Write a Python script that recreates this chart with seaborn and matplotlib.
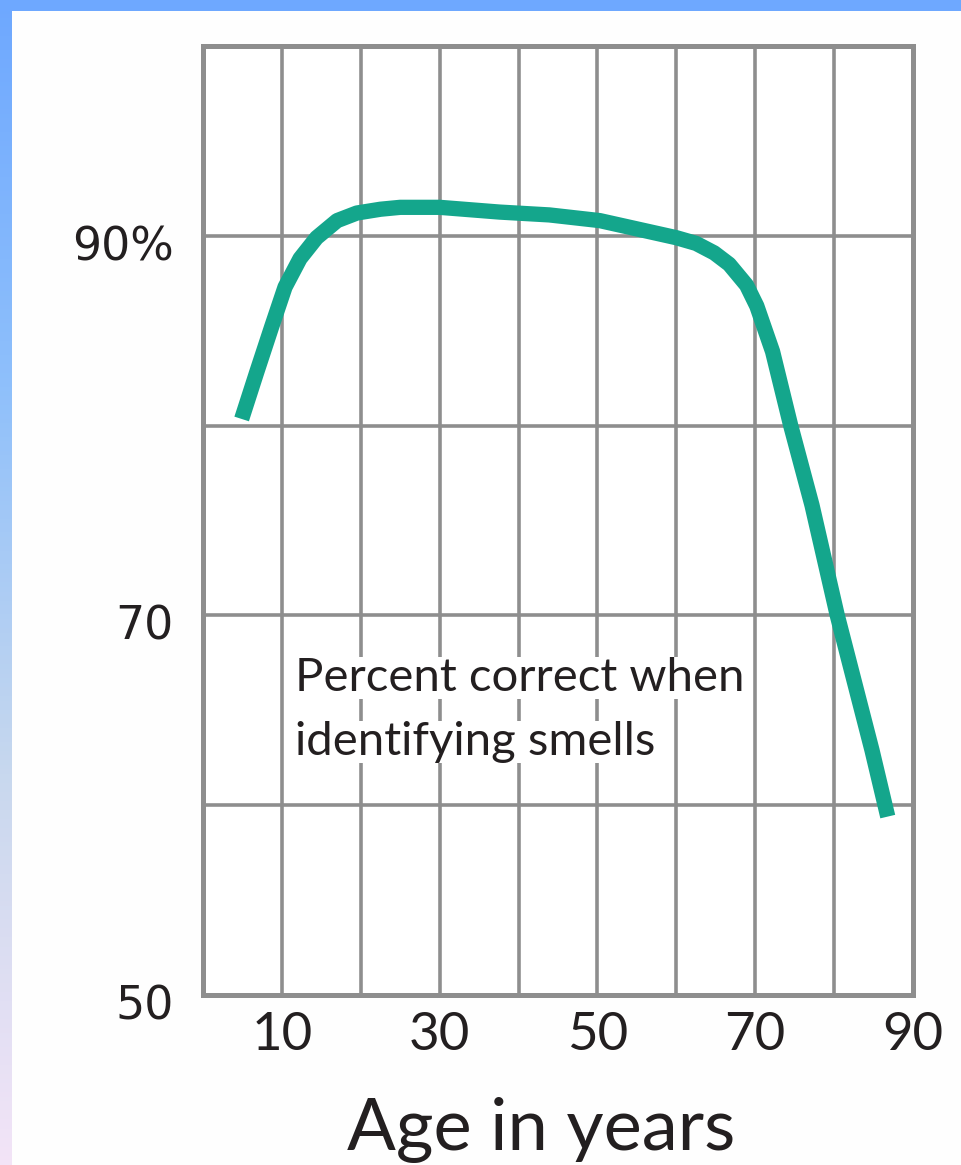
import numpy as np
import pandas as pd
import matplotlib
matplotlib.use("Agg")
import matplotlib.pyplot as plt
import matplotlib.transforms as mtransforms
from matplotlib.colors import LinearSegmentedColormap
from matplotlib.patches import Rectangle
import seaborn as sns

# ---------------- data ----------------
ages = [4.9, 6.8, 8.7, 10.4, 12.3, 14.4, 17.0, 19.5, 22.5, 25.0, 30.0, 37.6, 43.9, 50.3,
        60.0, 62.5, 64.8, 66.7, 68.9, 70.2, 72.2, 74.5, 77.2, 80.4, 84.8, 86.8]
percent_correct = [80.35, 82.8, 85.2, 87.3, 88.8, 89.9, 90.8, 91.2, 91.4, 91.5, 91.5, 91.25, 91.1, 90.8,
                   89.9, 89.6, 89.1, 88.5, 87.4, 86.3, 83.9, 80.0, 75.8, 70.0, 62.9, 59.4]

x_tick_values = [0, 10, 20, 30, 40, 50, 60, 70, 80, 90]
x_tick_labels = ["", "10", "", "30", "", "50", "", "70", "", "90"]
y_tick_values = [50, 60, 70, 80, 90, 100]
y_tick_labels = ["50", "", "70", "", "90%", ""]
annotation_lines = ["Percent correct when", "identifying smells"]
x_label = "Age in years"

TEAL = "#14a68c"
GRID = "#8e8e8e"
TEXT = "#231f20"

sns.set_theme(style="white")
plt.rcParams["font.family"] = ["Lato", "DejaVu Sans"]

W, H = 961, 1165
fig = plt.figure(figsize=(W / 100, H / 100), dpi=100)
fig.patch.set_facecolor("#fefefe")

# left gradient strip and top band
strip = fig.add_axes([0, 0, 12 / W, 1])
cmap = LinearSegmentedColormap.from_list(
    "strip", ["#6ea8ff", "#8fc0fb", "#c8d8ee", "#f3e4f7"])
strip.imshow(np.linspace(0, 1, 256).reshape(-1, 1), aspect="auto", cmap=cmap)
strip.set_axis_off()
fig.add_artist(Rectangle((0, 1 - 11 / H), 1, 11 / H, transform=fig.transFigure,
                         facecolor="#6ea8ff", edgecolor="none", zorder=10))

ax = fig.add_axes([203 / W, 1 - 995 / H, 710 / W, 949 / H])
df = pd.DataFrame({"age": ages, "pct": percent_correct})
sns.lineplot(data=df, x="age", y="pct", ax=ax, color=TEAL, linewidth=11,
             sort=False, zorder=5, solid_capstyle="butt", solid_joinstyle="round")

ax.set_xlim(0, 90)
ax.set_ylim(50, 100)
ax.set_xticks(x_tick_values, x_tick_labels)
ax.set_yticks(y_tick_values, y_tick_labels)
ax.grid(True, color=GRID, linewidth=2.6)
ax.set_axisbelow(True)
for s in ax.spines.values():
    s.set_visible(True)
    s.set_color(GRID)
    s.set_linewidth(3.6)
ax.tick_params(axis="x", length=0, pad=12, labelsize=38, labelcolor=TEXT)
ax.tick_params(axis="y", length=0, pad=21, labelsize=33, labelcolor=TEXT,
               labelfontfamily="DejaVu Sans")
offset = mtransforms.ScaledTranslation(0, -7 / 100, fig.dpi_scale_trans)
for lab in ax.get_yticklabels():
    lab.set_transform(lab.get_transform() + offset)

ax.set_xlabel("")
ax.set_ylabel("")
fig.text(541 / W, 1 - 1150 / H, x_label, fontsize=52, color=TEXT,
         ha="center", va="baseline")

ax.text(11.65, 66.72, annotation_lines[0], fontsize=34, color=TEXT,
        ha="left", va="center", zorder=3,
        bbox=dict(boxstyle="square,pad=0.0", facecolor="white", edgecolor="none"))
ax.text(11.65, 63.33, annotation_lines[1], fontsize=34, color=TEXT,
        ha="left", va="center", zorder=3,
        bbox=dict(boxstyle="square,pad=0.0", facecolor="white", edgecolor="none"))

fig.savefig("out.png", dpi=100)
